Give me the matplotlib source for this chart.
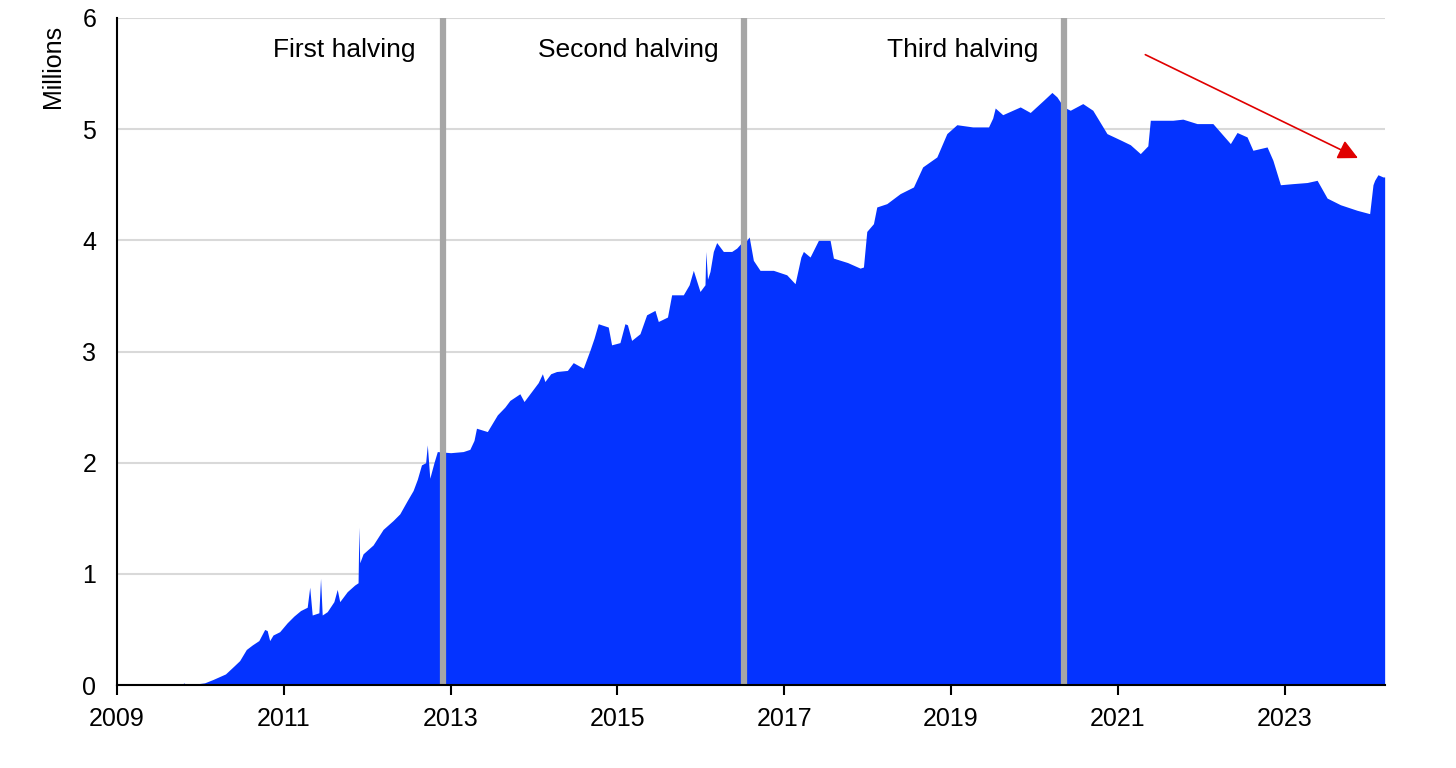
import matplotlib.pyplot as plt
from matplotlib.ticker import MultipleLocator

# Values (millions)
years = [
    2009.0, 2009.5, 2009.78, 2009.8, 2009.83, 2009.95, 2010.05, 2010.15, 2010.3, 2010.4,
    2010.47, 2010.55, 2010.62, 2010.7, 2010.77, 2010.8, 2010.83, 2010.87, 2010.95, 2011.04,
    2011.12, 2011.2, 2011.28, 2011.31, 2011.34, 2011.42, 2011.44, 2011.46, 2011.52, 2011.6,
    2011.64, 2011.67, 2011.76, 2011.85, 2011.89, 2011.9, 2011.91, 2011.95, 2012.07, 2012.19,
    2012.31, 2012.39, 2012.48, 2012.55, 2012.6, 2012.65, 2012.7, 2012.72, 2012.75, 2012.8,
    2012.84, 2013.0, 2013.15, 2013.23, 2013.28, 2013.31, 2013.44, 2013.56, 2013.65, 2013.71,
    2013.83, 2013.88, 2013.95, 2014.05, 2014.1, 2014.13, 2014.2, 2014.27, 2014.4, 2014.47,
    2014.59, 2014.67, 2014.72, 2014.77, 2014.89, 2014.93, 2015.03, 2015.09, 2015.12, 2015.17,
    2015.27, 2015.35, 2015.45, 2015.49, 2015.6, 2015.65, 2015.79, 2015.86, 2015.91, 2015.99,
    2016.05, 2016.06, 2016.08, 2016.11, 2016.15, 2016.19, 2016.27, 2016.37, 2016.43, 2016.49,
    2016.55, 2016.58, 2016.63, 2016.71, 2016.87, 2017.03, 2017.13, 2017.2, 2017.23, 2017.31,
    2017.41, 2017.55, 2017.59, 2017.76, 2017.91, 2017.95, 2017.99, 2018.07, 2018.11, 2018.23,
    2018.39, 2018.55, 2018.66, 2018.83, 2018.95, 2019.07, 2019.26, 2019.45, 2019.5, 2019.53,
    2019.62, 2019.83, 2019.95, 2020.11, 2020.21, 2020.27, 2020.35, 2020.43, 2020.58, 2020.7,
    2020.87, 2021.04, 2021.15, 2021.27, 2021.36, 2021.39, 2021.66, 2021.78, 2021.95, 2022.14,
    2022.35, 2022.43, 2022.55, 2022.62, 2022.79, 2022.86, 2022.95, 2023.1, 2023.27, 2023.39,
    2023.51, 2023.67, 2023.87, 2024.02, 2024.06, 2024.08, 2024.12, 2024.18, 2024.2,
]
values = [
    0.0, 0.0, 0.0, 0.02, 0.0, 0.01, 0.02, 0.05, 0.1, 0.17,
    0.22, 0.32, 0.36, 0.4, 0.5, 0.49, 0.4, 0.45, 0.48, 0.56,
    0.62, 0.67, 0.7, 0.88, 0.63, 0.65, 0.96, 0.63, 0.66, 0.75,
    0.86, 0.75, 0.84, 0.9, 0.92, 1.42, 1.1, 1.18, 1.26, 1.4,
    1.48, 1.54, 1.66, 1.75, 1.85, 1.98, 2.0, 2.16, 1.86, 2.0,
    2.1, 2.09, 2.1, 2.12, 2.2, 2.31, 2.28, 2.43, 2.5, 2.56,
    2.62, 2.55, 2.62, 2.72, 2.8, 2.73, 2.8, 2.82, 2.83, 2.9,
    2.85, 3.01, 3.12, 3.25, 3.22, 3.06, 3.08, 3.25, 3.24, 3.1,
    3.16, 3.33, 3.37, 3.27, 3.31, 3.51, 3.51, 3.6, 3.73, 3.54,
    3.6, 3.9, 3.65, 3.72, 3.9, 3.98, 3.9, 3.9, 3.93, 3.98,
    4.0, 4.03, 3.82, 3.73, 3.73, 3.69, 3.61, 3.85, 3.9, 3.85,
    4.0, 4.0, 3.84, 3.8, 3.75, 3.76, 4.08, 4.15, 4.3, 4.33,
    4.42, 4.48, 4.66, 4.75, 4.96, 5.04, 5.02, 5.02, 5.1, 5.19,
    5.13, 5.2, 5.15, 5.26, 5.33, 5.29, 5.2, 5.17, 5.23, 5.17,
    4.96, 4.9, 4.86, 4.78, 4.85, 5.08, 5.08, 5.09, 5.05, 5.05,
    4.87, 4.97, 4.93, 4.81, 4.84, 4.72, 4.5, 4.51, 4.52, 4.54,
    4.38, 4.32, 4.27, 4.24, 4.5, 4.54, 4.59, 4.57, 4.57,
]

halving_dates = [2012.91, 2016.52, 2020.36]
halving_labels = ["First halving", "Second halving", "Third halving"]
label_x = [2011.72, 2015.13, 2019.14]

x_ticks = [2009, 2011, 2013, 2015, 2017, 2019, 2021, 2023]

plt.rcParams['font.family'] = ['Liberation Sans', 'DejaVu Sans']

fig = plt.figure(figsize=(14.56, 7.68), dpi=100)
ax = fig.add_axes([0.0804, 0.108, 0.8706, 0.8686])

# Grid behind the area
ax.set_axisbelow(True)
ax.yaxis.grid(True, color='#d9d9d9', linewidth=1.5)

ax.fill_between(years, values, 0, color='#0433ff', linewidth=0, zorder=2)

# Halving markers
for d in halving_dates:
    ax.axvline(d, color='#a6a6a6', linewidth=4.5, zorder=3)
for x, lab in zip(label_x, halving_labels):
    ax.text(x, 5.71, lab, ha='center', va='center', fontsize=19, zorder=4)

# Downward trend arrow
ax.annotate('', xy=(2023.88, 4.74), xytext=(2021.33, 5.67),
            arrowprops=dict(arrowstyle='-|>', color='#e00000', lw=1.2,
                            mutation_scale=30, shrinkA=0, shrinkB=0),
            zorder=5)

ax.set_xlim(2009, 2024.2)
ax.set_ylim(0, 6)
ax.set_xticks(x_ticks)
ax.set_xticklabels([str(t) for t in x_ticks])
ax.yaxis.set_major_locator(MultipleLocator(1))

ax.spines['top'].set_visible(False)
ax.spines['right'].set_visible(False)
ax.spines['left'].set_linewidth(1.5)
ax.spines['bottom'].set_linewidth(1.5)
ax.spines['left'].set_zorder(6)
ax.spines['bottom'].set_zorder(6)

ax.tick_params(axis='x', direction='out', length=7, width=1.5, labelsize=18, pad=9)
ax.tick_params(axis='y', length=0, labelsize=18, pad=15)

ax.set_ylabel('Millions', fontsize=18)
ax.yaxis.set_label_coords(-0.041, 0.928)

fig.savefig('out.png', dpi=100)
